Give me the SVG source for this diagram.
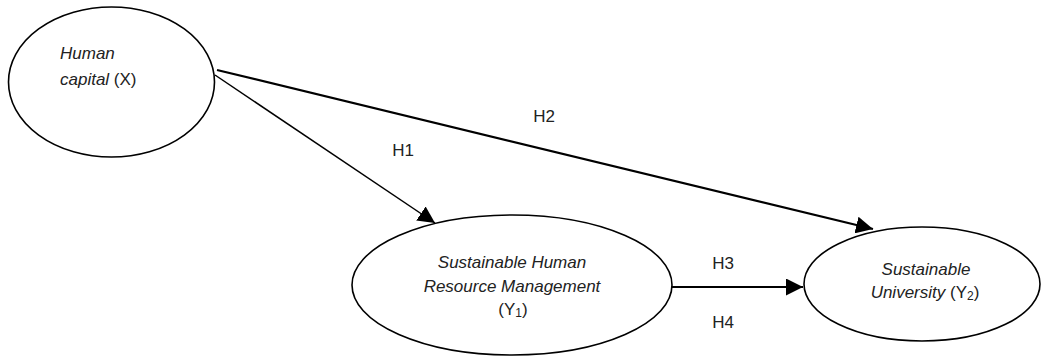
<svg xmlns="http://www.w3.org/2000/svg" width="1042" height="356" viewBox="0 0 1042 356">
<style>
  .node { fill: #ffffff; stroke: #000000; stroke-width: 1.6; }
  .t { font-family: "Liberation Sans", Arial, sans-serif; font-size: 17px; fill: #222222; }
  .i { font-style: italic; }
  .lbl { font-family: "Liberation Sans", Arial, sans-serif; font-size: 17px; fill: #222222; text-anchor: middle; }
  .edge { stroke: #000000; fill: none; }
</style>
<defs>
  <marker id="arr" viewBox="0 0 10 10" refX="10" refY="5" markerWidth="17" markerHeight="17" markerUnits="userSpaceOnUse" orient="auto">
    <path d="M0,0 L10,5 L0,10 z" fill="#000000"/>
  </marker>
</defs>
<rect width="1042" height="356" fill="#ffffff"/>
<g id="connectors">
  <line class="edge" x1="215" y1="75" x2="435" y2="223" stroke-width="1.5" marker-end="url(#arr)"/>
  <line class="edge" x1="217" y1="70" x2="873" y2="229" stroke-width="2.2" marker-end="url(#arr)"/>
  <line class="edge" x1="672" y1="287" x2="803" y2="287" stroke-width="2.2" marker-end="url(#arr)"/>
  <text class="lbl" x="403" y="156">H1</text>
  <text class="lbl" x="544" y="122">H2</text>
  <text class="lbl" x="723" y="269">H3</text>
  <text class="lbl" x="723" y="328">H4</text>
</g>
<g id="human-capital">
  <ellipse class="node" cx="111.5" cy="82" rx="103" ry="75"/>
  <text class="t" x="60" y="59"><tspan class="i">Human</tspan></text>
  <text class="t" x="60" y="85"><tspan class="i">capital</tspan> (X)</text>
</g>
<g id="shrm">
  <ellipse class="node" cx="512" cy="285" rx="160" ry="70"/>
  <text class="t i" x="512" y="268" text-anchor="middle">Sustainable Human</text>
  <text class="t i" x="512" y="292" text-anchor="middle">Resource Management</text>
  <text class="t" x="513" y="315" text-anchor="middle">(Y<tspan font-size="12" dy="2">1</tspan><tspan dy="-2">)</tspan></text>
</g>
<g id="sustainable-university">
  <ellipse class="node" cx="922" cy="284" rx="118" ry="57"/>
  <text class="t i" x="926" y="275" text-anchor="middle">Sustainable</text>
  <text class="t" x="925" y="298" text-anchor="middle"><tspan class="i">University</tspan> (Y<tspan font-size="12" dy="2">2</tspan><tspan dy="-2">)</tspan></text>
</g>
</svg>
